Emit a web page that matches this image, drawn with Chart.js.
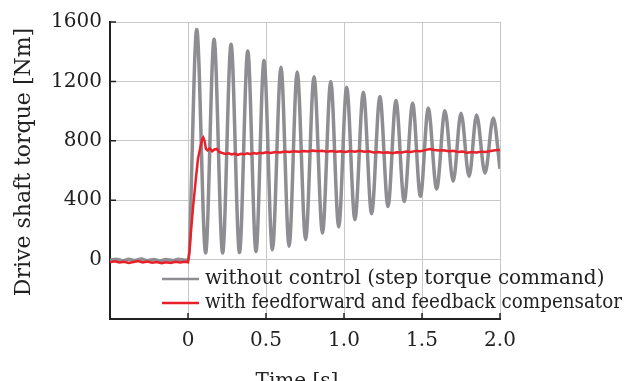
<!DOCTYPE html>
<html>
<head>
<meta charset="utf-8">
<script src="https://cdn.jsdelivr.net/npm/chart.js@4/dist/chart.umd.min.js"></script>
<style>
  body { margin: 0; background: #fff; }
  canvas { display: block; }
</style>
</head>
<body>
<canvas id="torqueChart" width="624" height="381"></canvas>
<script>
// Step response data (time in s, torque in Nm)
const seriesLabels = ["without control (step torque command)", "with feedforward and feedback compensator"];

// without control: noise before the step, then the peaks / troughs of the oscillation
const grayTime = [-0.5, -0.46, -0.42, -0.38, -0.34, -0.3, -0.26, -0.22, -0.18, -0.14, -0.1, -0.06, -0.02, 0.0,
  0.056, 0.113, 0.167, 0.222, 0.276, 0.33, 0.383, 0.436, 0.487, 0.541, 0.596, 0.648, 0.700, 0.754, 0.808, 0.862,
  0.915, 0.966, 1.017, 1.07, 1.124, 1.177, 1.230, 1.282, 1.333, 1.386, 1.440, 1.490, 1.540, 1.594, 1.647, 1.700,
  1.750, 1.802, 1.850, 1.904, 1.957, 2.0];
const grayTorque = [-5, 3, -8, 2, -6, 4, -7, 1, -9, 0, -6, 3, -4, -2,
  1550, 45, 1484, 45, 1450, 47, 1405, 55, 1340, 67, 1295, 90, 1264, 134, 1232, 179,
  1200, 220, 1161, 269, 1127, 309, 1098, 358, 1071, 392, 1053, 426, 1019, 476, 1002, 527,
  986, 560, 973, 583, 953, 612];

// with feedforward and feedback compensator
const redTime = [-0.5, -0.47, -0.44, -0.41, -0.38, -0.35, -0.32, -0.29, -0.26, -0.23, -0.2, -0.17, -0.14, -0.11, -0.08, -0.05, -0.02, 0.0,
  0.01, 0.02, 0.033, 0.05, 0.064, 0.08, 0.09, 0.098, 0.106, 0.115, 0.125, 0.14, 0.155, 0.17, 0.185, 0.2,
  0.22, 0.24, 0.26, 0.28, 0.3, 0.32, 0.34, 0.36, 0.38, 0.4, 0.42, 0.44, 0.46, 0.48, 0.5, 0.53, 0.56, 0.59,
  0.62, 0.65, 0.68, 0.71, 0.74, 0.77, 0.8, 0.83, 0.86, 0.89, 0.92, 0.95, 0.98, 1.01, 1.04, 1.07, 1.1, 1.13,
  1.16, 1.19, 1.22, 1.25, 1.28, 1.31, 1.34, 1.37, 1.4, 1.43, 1.46, 1.49, 1.52, 1.55, 1.58, 1.61, 1.64, 1.67,
  1.7, 1.73, 1.76, 1.79, 1.82, 1.85, 1.88, 1.91, 1.94, 1.97, 2.0];
const redTorque = [-18, -12, -20, -14, -22, -16, -10, -19, -13, -21, -17, -24, -18, -22, -15, -20, -14, -18,
  60, 200, 360, 540, 680, 760, 810, 822, 800, 745, 735, 748, 730, 742, 745, 725,
  718, 712, 716, 708, 714, 705, 712, 709, 716, 710, 718, 713, 720, 716, 722, 718, 725, 721,
  728, 724, 730, 726, 732, 728, 734, 729, 733, 727, 731, 726, 730, 725, 731, 727, 733, 726,
  729, 722, 725, 719, 722, 717, 723, 721, 728, 725, 732, 730, 737, 745, 738, 734, 737, 730,
  733, 725, 728, 719, 724, 721, 727, 724, 732, 736, 738];

const xTicks = [0, 0.5, 1.0, 1.5, 2.0];
const xTickLabels = ["0", "0.5", "1.0", "1.5", "2.0"];
const yTicks = [0, 400, 800, 1200, 1600];
const yTickLabels = ["0", "400", "800", "1200", "1600"];
const xTitle = "Time [s]";
const yTitle = "Drive shaft torque [Nm]";

const FONT = "'DejaVu Serif', serif";
const TEXT = "#222";

function toPoints(xs, ys) {
  return xs.map((x, i) => ({ x: x, y: ys[i] }));
}

// small inward tick marks on the left and bottom axes
const innerTicks = {
  id: 'innerTicks',
  beforeDatasetsDraw(chart) {
    const ctx = chart.ctx;
    const xs = chart.scales.x, ys = chart.scales.y;
    const area = chart.chartArea;
    ctx.save();
    ctx.strokeStyle = TEXT;
    ctx.lineWidth = 1.5;
    ctx.beginPath();
    yTicks.forEach(v => {
      const py = ys.getPixelForValue(v);
      ctx.moveTo(area.left, py);
      ctx.lineTo(area.left + 6, py);
    });
    xTicks.forEach(v => {
      const px = xs.getPixelForValue(v);
      ctx.moveTo(px, area.bottom);
      ctx.lineTo(px, area.bottom - 6);
    });
    ctx.stroke();
    ctx.restore();
  }
};

// legend inside the plot (lower right) and the two axis titles
const insideLegend = {
  id: 'insideLegend',
  afterDraw(chart) {
    const ctx = chart.ctx;
    const area = chart.chartArea;
    const rows = [area.bottom - 40, area.bottom - 16];
    ctx.save();
    ctx.font = "20px " + FONT;
    ctx.textBaseline = 'middle';
    ctx.textAlign = 'left';
    chart.data.datasets.forEach((ds, i) => {
      const y = rows[i];
      ctx.strokeStyle = ds.borderColor;
      ctx.lineWidth = 2.5;
      ctx.beginPath();
      ctx.moveTo(area.left + 52, y);
      ctx.lineTo(area.left + 89, y);
      ctx.stroke();
      ctx.fillStyle = TEXT;
      ctx.fillText(ds.label, area.left + 95, y, chart.width - 2 - (area.left + 95));
    });

    // x title, partly cut by the bottom edge like in the figure
    ctx.textAlign = 'center';
    ctx.textBaseline = 'alphabetic';
    ctx.fillText(xTitle, area.left + 187, chart.height + 6);

    // y title
    ctx.font = "22px " + FONT;
    ctx.textBaseline = 'middle';
    ctx.translate(24, area.top + 140);
    ctx.rotate(-Math.PI / 2);
    ctx.fillText(yTitle, 0, 0);
    ctx.restore();
  }
};

const ctx = document.getElementById('torqueChart').getContext('2d');

const torqueChart = new Chart(ctx, {
  type: 'line',
  data: {
    datasets: [{
      label: seriesLabels[0],
      data: toPoints(grayTime, grayTorque),
      borderColor: '#8e8e92',
      borderWidth: 3.5,
      pointRadius: 0,
      cubicInterpolationMode: 'monotone',
      order: 1,
    }, {
      label: seriesLabels[1],
      data: toPoints(redTime, redTorque),
      borderColor: '#e8202a',
      borderWidth: 2.5,
      pointRadius: 0,
      tension: 0,
      order: 0,
    }]
  },
  options: {
    responsive: false,
    animation: false,
    devicePixelRatio: 1,
    layout: {
      padding: { top: 22, right: 124, left: 0, bottom: 0 }
    },
    plugins: {
      legend: { display: false },
      tooltip: { enabled: false },
    },
    scales: {
      x: {
        type: 'linear',
        min: -0.5,
        max: 2.0,
        afterBuildTicks: (scale) => { scale.ticks = xTicks.map(v => ({ value: v })); },
        afterFit: (scale) => { scale.height = 62; scale.paddingLeft = 0; scale.paddingRight = 0; },
        ticks: {
          padding: 10,
          color: TEXT,
          font: { family: FONT, size: 20 },
          maxRotation: 0,
          callback: (v) => xTickLabels[xTicks.indexOf(v)],
        },
        grid: { color: '#c8c8c8', lineWidth: 1, drawTicks: false },
        border: { display: true, color: TEXT, width: 2 },
      },
      y: {
        min: -400,
        max: 1600,
        afterBuildTicks: (scale) => { scale.ticks = yTicks.map(v => ({ value: v })); },
        afterFit: (scale) => { scale.width = 110; scale.paddingTop = 0; scale.paddingBottom = 0; },
        ticks: {
          padding: 8,
          color: TEXT,
          font: { family: FONT, size: 20 },
          callback: (v) => yTickLabels[yTicks.indexOf(v)],
        },
        grid: { color: '#c8c8c8', lineWidth: 1, drawTicks: false },
        border: { display: true, color: TEXT, width: 2 },
      }
    }
  },
  plugins: [innerTicks, insideLegend]
});
</script>
</body>
</html>
